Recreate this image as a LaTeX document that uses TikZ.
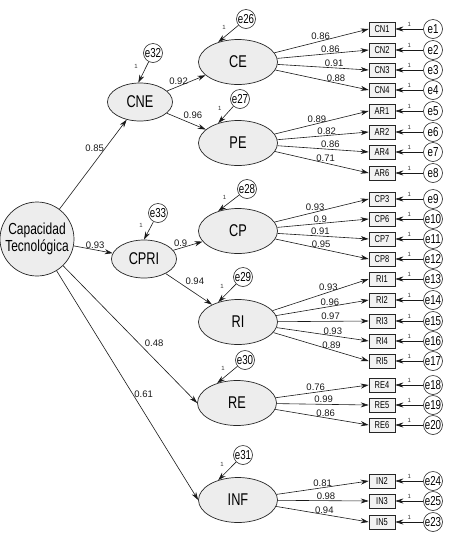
\documentclass[tikz,border=0pt]{standalone}
\usepackage{fontspec}
\setmainfont{Liberation Sans}
\newfontfamily\condfont[FakeStretch=0.75]{Liberation Sans}
\usetikzlibrary{arrows.meta,shapes.geometric}
% indicator: name, y, error, loading, factor, label pos
\newcommand{\indic}[6]{%
  \node[obs] (#1) at (382,#2) {#1};
  \node[err] (#3) at (433,#2) {#3};
  \draw[arrow] (#3) -- node[one, above=1.5pt] {1} (#1);
  \draw[arrow] (#5) -- node[coef, pos=#6, above] {#4} (#1.west);
}
\tikzset{
  general/.style={
    circle,
    draw=black!85,
    fill=gray!14,
    line width=0.7pt,
    minimum size=74pt,
    inner sep=0pt,
    align=center,
    font=\condfont\fontsize{16}{17}\selectfont
  },
  latent/.style={
    ellipse,
    draw=black!85,
    fill=gray!14,
    line width=0.7pt,
    minimum width=79pt,
    minimum height=45pt,
    inner sep=0pt,
    font=\condfont\fontsize{17}{17}\selectfont
  },
  latentsmall/.style={
    latent,
    minimum width=65pt,
    minimum height=38pt
  },
  obs/.style={
    rectangle,
    draw=black!85,
    fill=gray!10,
    line width=0.6pt,
    minimum width=26pt,
    minimum height=14pt,
    inner sep=0pt,
    font=\condfont\fontsize{10}{10}\selectfont
  },
  err/.style={
    circle,
    draw=black!85,
    fill=white,
    line width=0.6pt,
    minimum size=19pt,
    inner sep=0pt,
    font=\condfont\fontsize{13}{13}\selectfont
  },
  arrow/.style={
    -{Stealth[length=8pt,width=5pt]},
    line width=0.6pt,
    draw=black!90
  },
  coef/.style={
    inner sep=1pt,
    text=black!90,
    font=\fontsize{9.5}{9.5}\selectfont
  },
  one/.style={
    inner sep=0.5pt,
    text=black!80,
    font=\fontsize{6}{6}\selectfont
  }
}
\begin{document}
\begin{tikzpicture}[x=1pt,y=-1pt]
  \useasboundingbox (0,0) rectangle (455,539);

  \node[general] (CT) at (37,239) {Capacidad\\Tecnológica};

  \node[latentsmall] (CNE) at (140,102) {CNE};
  \node[latentsmall] (CPRI) at (144,259) {CPRI};

  \node[latent] (CE) at (238,62) {CE};
  \node[latent] (PE) at (238,143) {PE};
  \node[latent] (CP) at (238,231) {CP};
  \node[latent] (RI) at (238,322) {RI};
  \node[latent] (RE) at (237,403) {RE};
  \node[latent] (INF) at (238,500) {INF};

  \node[err] (e32) at (153,53) {e32};
  \node[err] (e33) at (158,213) {e33};
  \node[err] (e26) at (246,19) {e26};
  \node[err] (e27) at (240,99) {e27};
  \node[err] (e28) at (247,189) {e28};
  \node[err] (e29) at (243,277) {e29};
  \node[err] (e30) at (245,360) {e30};
  \node[err] (e31) at (243,455) {e31};

  % structural paths
  \draw[arrow] (CT) -- node[coef, pos=0.68, left] {0.85} (CNE);
  \draw[arrow] (CT) -- node[coef, pos=0.55, above] {0.93} (CPRI);
  \draw[arrow] (CT) -- node[coef, pos=0.6, above right] {0.48} (RE.west);
  \draw[arrow] (CT) -- node[coef, pos=0.54, right] {0.61} (INF.west);
  \draw[arrow] (CNE) -- node[coef, pos=0.3, above] {0.92} (CE);
  \draw[arrow] (CNE) -- node[coef, pos=0.4, above right] {0.96} (PE);
  \draw[arrow] (CPRI) -- node[coef, pos=0.25, above] {0.9} (CP);
  \draw[arrow] (CPRI) -- node[coef, pos=0.4, above right] {0.94} (RI);

  % disturbances
  \draw[arrow] (e32) -- node[one, pos=0.2, left=8pt] {1} (CNE.95);
  \draw[arrow] (e33) -- node[one, pos=0.2, left=8pt] {1} (CPRI.north);
  \draw[arrow] (e26) -- node[one, pos=0.15, left=9pt] {1} (CE.135);
  \draw[arrow] (e27) -- node[one, pos=0.15, left=9pt] {1} (PE.135);
  \draw[arrow] (e28) -- node[one, pos=0.15, left=9pt] {1} (CP.135);
  \draw[arrow] (e29) -- node[one, pos=0.15, left=9pt] {1} (RI.135);
  \draw[arrow] (e30) -- node[one, pos=0.15, left=9pt] {1} (RE.135);
  \draw[arrow] (e31) -- node[one, pos=0.15, left=9pt] {1} (INF.135);

  % indicators
  \indic{CN1}{29}{e1}{0.86}{CE}{0.49}
  \indic{CN2}{50}{e2}{0.86}{CE}{0.58}
  \indic{CN3}{70}{e3}{0.91}{CE}{0.62}
  \indic{CN4}{90}{e4}{0.88}{CE}{0.65}
  \indic{AR1}{111}{e5}{0.89}{PE}{0.45}
  \indic{AR2}{132}{e6}{0.82}{PE}{0.54}
  \indic{AR4}{152}{e7}{0.86}{PE}{0.58}
  \indic{AR6}{173}{e8}{0.71}{PE}{0.54}
  \indic{CP3}{199}{e9}{0.93}{CP}{0.43}
  \indic{CP6}{219}{e10}{0.9}{CP}{0.47}
  \indic{CP7}{239}{e11}{0.91}{CP}{0.47}
  \indic{CP8}{259}{e12}{0.95}{CP}{0.49}
  \indic{RI1}{279}{e13}{0.93}{RI}{0.58}
  \indic{RI2}{300}{e14}{0.96}{RI}{0.58}
  \indic{RI3}{321}{e15}{0.97}{RI}{0.58}
  \indic{RI4}{341}{e16}{0.93}{RI}{0.61}
  \indic{RI5}{361}{e17}{0.89}{RI}{0.61}
  \indic{RE4}{385}{e18}{0.76}{RE}{0.43}
  \indic{RE5}{405}{e19}{0.99}{RE}{0.51}
  \indic{RE6}{425}{e20}{0.86}{RE}{0.54}
  \indic{IN2}{481}{e24}{0.81}{INF}{0.50}
  \indic{IN3}{501}{e25}{0.98}{INF}{0.53}
  \indic{IN5}{522}{e23}{0.94}{INF}{0.52}
\end{tikzpicture}
\end{document}
